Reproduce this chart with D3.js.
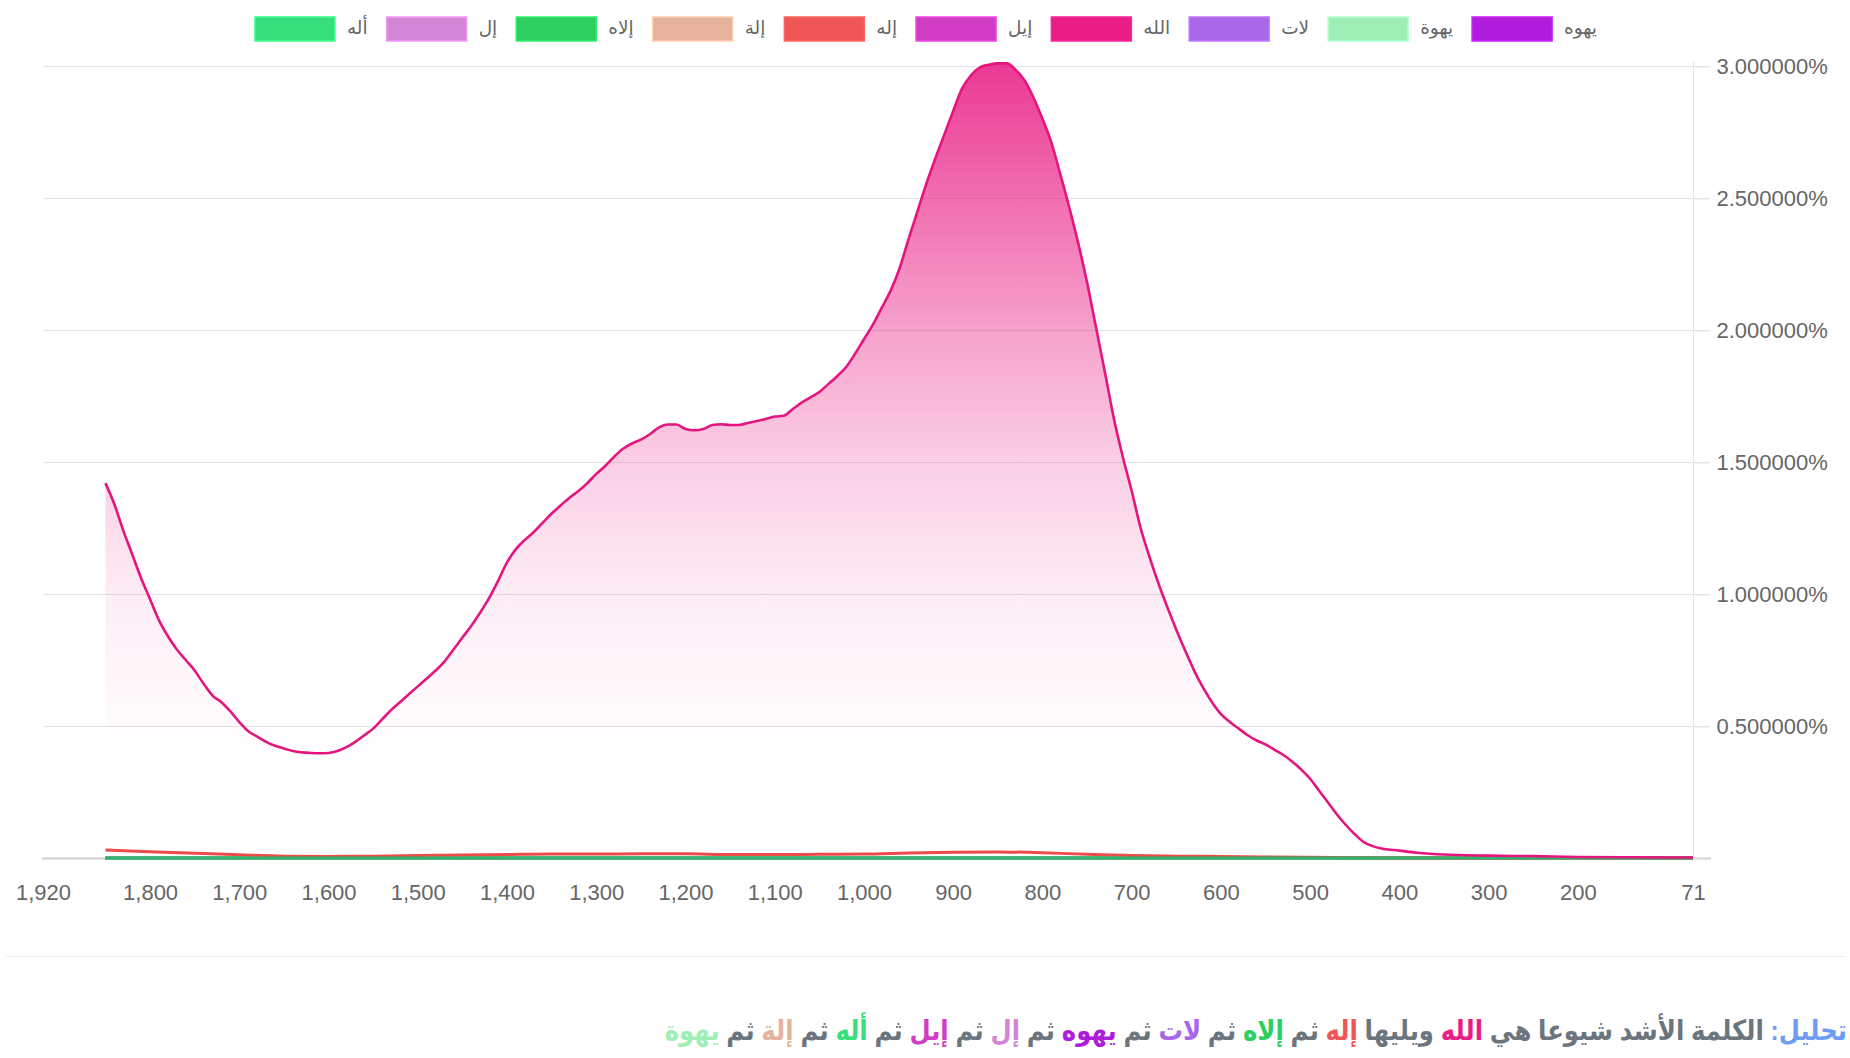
<!DOCTYPE html>
<html lang="ar">
<head>
<meta charset="utf-8">
<script src="https://cdn.jsdelivr.net/npm/d3@7/dist/d3.min.js"></script>
<style>
  html, body { margin: 0; padding: 0; background: #fff; }
  body { width: 1850px; height: 1058px; position: relative; overflow: hidden;
         font-family: "Helvetica Neue", Helvetica, Arial, "Liberation Sans", "DejaVu Sans", sans-serif; }
  #analysis { position: absolute; right: 3px; top: 1014px; direction: rtl; white-space: nowrap;
              font-size: 28px; font-weight: bold; color: #6c757d; line-height: 34px;
              transform: scaleX(0.87); transform-origin: right center; }
</style>
</head>
<body>
<svg id="chart" width="1850" height="1058"></svg>
<div id="analysis"></div>
<script>
// ---------- DATA ----------
const categories = ["أله", "إل", "إلاه", "إلة", "إله", "إيل", "الله", "لات", "يهوة", "يهوه"];
const seriesColors = ["#36df7c", "#d185d4", "#2ccf60", "#e5b39b", "#f05656", "#d03dc4", "#e91e84", "#a866e8", "#9eefb6", "#ad1ddb"];

const xTickValues = [1920, 1800, 1700, 1600, 1500, 1400, 1300, 1200, 1100, 1000, 900, 800, 700, 600, 500, 400, 300, 200, 71];
const yTickValues = [0, 0.5, 1, 1.5, 2, 2.5, 3];

// الله
const allahYears = [1850, 1840, 1830, 1820, 1810, 1800, 1790, 1780, 1770, 1760, 1750, 1740, 1730, 1720, 1710, 1700, 1690, 1680, 1670, 1660, 1650, 1640, 1630, 1620, 1610, 1600, 1590, 1580, 1570, 1560, 1550, 1540, 1530, 1520, 1510, 1500, 1490, 1480, 1470, 1460, 1450, 1440, 1430, 1420, 1410, 1400, 1390, 1380, 1370, 1360, 1350, 1340, 1330, 1320, 1310, 1300, 1290, 1280, 1270, 1260, 1250, 1240, 1230, 1220, 1210, 1200, 1190, 1180, 1170, 1160, 1150, 1140, 1130, 1120, 1110, 1100, 1090, 1080, 1070, 1060, 1050, 1040, 1030, 1020, 1010, 1000, 990, 980, 970, 960, 950, 940, 930, 920, 910, 900, 890, 880, 870, 860, 850, 840, 830, 820, 810, 800, 790, 780, 770, 760, 750, 740, 730, 720, 710, 700, 690, 680, 670, 660, 650, 640, 630, 620, 610, 600, 590, 580, 570, 560, 550, 540, 530, 520, 510, 500, 490, 480, 470, 460, 450, 440, 430, 420, 400, 380, 350, 300, 250, 200, 150, 100, 71];
const allahValues = [1.42, 1.34, 1.24, 1.15, 1.06, 0.98, 0.90, 0.84, 0.79, 0.75, 0.71, 0.66, 0.615, 0.59, 0.555, 0.515, 0.48, 0.46, 0.44, 0.425, 0.415, 0.405, 0.400, 0.398, 0.397, 0.398, 0.405, 0.42, 0.44, 0.465, 0.49, 0.525, 0.56, 0.59, 0.62, 0.65, 0.68, 0.71, 0.745, 0.79, 0.835, 0.88, 0.93, 0.985, 1.05, 1.12, 1.17, 1.205, 1.235, 1.27, 1.305, 1.335, 1.365, 1.39, 1.42, 1.455, 1.485, 1.52, 1.55, 1.57, 1.585, 1.605, 1.63, 1.642, 1.642, 1.625, 1.62, 1.625, 1.64, 1.643, 1.64, 1.64, 1.648, 1.655, 1.663, 1.672, 1.675, 1.70, 1.725, 1.745, 1.765, 1.795, 1.825, 1.86, 1.91, 1.965, 2.02, 2.085, 2.15, 2.235, 2.345, 2.45, 2.555, 2.65, 2.74, 2.83, 2.915, 2.965, 2.995, 3.005, 3.01, 3.01, 2.985, 2.945, 2.88, 2.80, 2.71, 2.59, 2.465, 2.33, 2.18, 2.01, 1.84, 1.665, 1.52, 1.39, 1.25, 1.14, 1.04, 0.95, 0.865, 0.785, 0.71, 0.645, 0.59, 0.545, 0.515, 0.49, 0.465, 0.445, 0.43, 0.41, 0.39, 0.365, 0.335, 0.30, 0.255, 0.21, 0.165, 0.125, 0.09, 0.06, 0.045, 0.036, 0.028, 0.02, 0.013, 0.009, 0.007, 0.004, 0.003, 0.002, 0.002];

// إله
const ilahYears = [1850, 1800, 1750, 1700, 1650, 1600, 1550, 1500, 1450, 1400, 1350, 1300, 1250, 1200, 1150, 1100, 1050, 1000, 950, 900, 850, 800, 750, 700, 650, 600, 550, 500, 450, 400, 71];
const ilahValues = [0.030, 0.024, 0.018, 0.012, 0.007, 0.006, 0.007, 0.009, 0.011, 0.013, 0.015, 0.015, 0.016, 0.016, 0.013, 0.013, 0.014, 0.015, 0.019, 0.022, 0.023, 0.020, 0.014, 0.009, 0.007, 0.006, 0.004, 0.003, 0.001, 0, 0];

// remaining words: flat at zero across the range
const zeroYears = [1850, 71];
const zeroValues = [0, 0];

const analysisText = [
  {t: "تحليل:", c: "#6f9cf0"},
  {t: " الكلمة الأشد شيوعا هي ", c: null},
  {t: "الله", c: "#e91e84"},
  {t: " ويليها ", c: null},
  {t: "إله", c: "#f05656"},
  {t: " ثم ", c: null},
  {t: "إلاه", c: "#2ccf60"},
  {t: " ثم ", c: null},
  {t: "لات", c: "#a866e8"},
  {t: " ثم ", c: null},
  {t: "يهوه", c: "#ad1ddb"},
  {t: " ثم ", c: null},
  {t: "إل", c: "#d185d4"},
  {t: " ثم ", c: null},
  {t: "إيل", c: "#d03dc4"},
  {t: " ثم ", c: null},
  {t: "أله", c: "#36df7c"},
  {t: " ثم ", c: null},
  {t: "إلة", c: "#e5b39b"},
  {t: " ثم ", c: null},
  {t: "يهوة", c: "#9eefb6"}
];

// ---------- DRAW ----------
const svg = d3.select("#chart");
const font = '"Helvetica Neue", Helvetica, Arial, "Liberation Sans", "DejaVu Sans", sans-serif';

const x = d3.scaleLinear().domain([1920, 71]).range([43, 1693]);
const y = d3.scaleLinear().domain([0, 3]).range([858, 66]);

// gradient
const defs = svg.append("defs");
const grad = defs.append("linearGradient").attr("id", "pinkFill")
  .attr("gradientUnits", "userSpaceOnUse").attr("x1", 0).attr("x2", 0).attr("y1", 62).attr("y2", 757);
[[0, 0.88], [0.385, 0.42], [0.57, 0.22], [0.77, 0.08], [1, 0]].forEach(([o, a]) =>
  grad.append("stop").attr("offset", o).attr("stop-color", "#e91e84").attr("stop-opacity", a));

// grid lines (horizontal)
svg.append("g").selectAll("line").data(yTickValues.filter(v => v > 0)).join("line")
  .attr("x1", 43).attr("x2", 1709).attr("y1", d => y(d) + 0.5).attr("y2", d => y(d) + 0.5)
  .attr("stroke", "#e3e3e3").attr("stroke-width", 1);

// x axis line
svg.append("line").attr("x1", 42).attr("x2", 1711).attr("y1", y(0) + 0.5).attr("y2", y(0) + 0.5)
  .attr("stroke", "#cfcfcf").attr("stroke-width", 2);

// right axis
const yAxis = d3.axisRight(y).tickValues(yTickValues).tickSize(16).tickPadding(7)
  .tickFormat(d => d === 0 ? "" : d3.format(".6f")(d) + "%");
const yg = svg.append("g").attr("transform", "translate(1693.5,0)").call(yAxis);
yg.select(".domain").attr("stroke", "#e3e3e3").attr("d", `M0,${y(3) - 4}V${y(0) + 1}`);
yg.selectAll(".tick line").attr("stroke", "#e3e3e3").attr("transform", "translate(0,0.5)");
yg.selectAll(".tick text").attr("fill", "#666").style("font-size", "22px").style("font-family", font);

// bottom axis labels
const xAxis = d3.axisBottom(x).tickValues(xTickValues).tickSize(0).tickPadding(26)
  .tickFormat(d3.format(","));
const xg = svg.append("g").attr("transform", `translate(0,${y(0)})`).call(xAxis);
xg.select(".domain").remove();
xg.selectAll(".tick text").attr("fill", "#666").style("font-size", "22px").style("font-family", font);

// series
const curve = d3.curveMonotoneX;
const mk = (ys, vs) => ys.map((yr, i) => ({yr, v: vs[i]})).sort((a, b) => x(a.yr) - x(b.yr));
const lineGen = d3.line().x(d => x(d.yr)).y(d => y(d.v)).curve(curve);
const areaGen = d3.area().x(d => x(d.yr)).y0(y(0)).y1(d => y(d.v)).curve(curve);

const allahData = mk(allahYears, allahValues);
svg.append("path").datum(allahData).attr("d", areaGen).attr("fill", "url(#pinkFill)");

const plotOrder = ["يهوه", "يهوة", "لات", "إيل", "إلة", "إل", "إلاه"];
plotOrder.forEach(name => {
  svg.append("path").datum(mk(zeroYears, zeroValues)).attr("d", lineGen)
    .attr("fill", "none").attr("stroke", seriesColors[categories.indexOf(name)]).attr("stroke-width", 3);
});
svg.append("path").datum(mk(ilahYears, ilahValues)).attr("d", lineGen)
  .attr("fill", "none").attr("stroke", "#ee4b4b").attr("stroke-width", 3);
svg.append("path").datum(mk(zeroYears, zeroValues)).attr("d", lineGen)
  .attr("fill", "none").attr("stroke", "#2db56c").attr("stroke-width", 3);
svg.append("path").datum(allahData).attr("d", lineGen)
  .attr("fill", "none").attr("stroke", "#e5157f").attr("stroke-width", 2.6);

// legend
const legend = svg.append("g");
const items = legend.selectAll("g").data(categories).join("g");
items.append("rect").attr("width", 80).attr("height", 24).attr("y", 17)
  .attr("fill", (d, i) => seriesColors[i]).attr("stroke", (d, i) => d3.color(seriesColors[i]).brighter(0.4))
  .attr("stroke-width", 1.5);
items.append("text").text(d => d).attr("y", 28).attr("dy", "0.35em")
  .attr("fill", "#666").style("font-size", "18.5px").style("font-family", font);
const widths = [];
items.each(function () { widths.push(d3.select(this).select("text").node().getComputedTextLength()); });
const itemW = widths.map(w => 80 + 12 + w + 19);
const total = d3.sum(itemW) - 19;
let start = 926 - total / 2;
items.each(function (d, i) {
  const g = d3.select(this);
  g.select("rect").attr("x", start);
  g.select("text").attr("x", start + 92);
  start += itemW[i];
});

// separator
svg.append("line").attr("x1", 6).attr("x2", 1846).attr("y1", 956.5).attr("y2", 956.5)
  .attr("stroke", "#ececec").attr("stroke-width", 1);

// analysis text
d3.select("#analysis").selectAll("span").data(analysisText).join("span")
  .text(d => d.t).style("color", d => d.c || null);
</script>
</body>
</html>
